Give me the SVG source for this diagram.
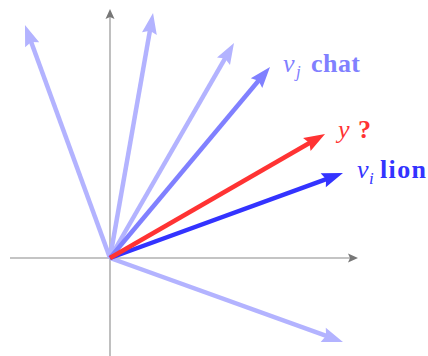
<svg xmlns="http://www.w3.org/2000/svg" width="428" height="356" viewBox="0 0 428 356">
<style>
.axis{stroke:#b0b0b0;stroke-width:1.6;fill:none}
.vec{stroke-width:4.5;fill:none;stroke-linecap:butt}
.light{stroke:#b3b3ff}
.vj{stroke:#8080ff}
.vi{stroke:#3333ff}
.vy{stroke:#ff3333}
text{font-family:"Liberation Serif","DejaVu Serif",serif;font-size:26px}
.it{font-style:italic}
.sub{font-style:italic;font-size:17px}
.b{font-weight:bold}
</style>
<defs>
<marker id="ax" markerUnits="userSpaceOnUse" orient="auto" markerWidth="20" markerHeight="20" refX="0" refY="0" viewBox="-5 -10 20 20" overflow="visible">
<path d="M-2,-4.5 L8,0 L-2,4.5 L0,0 Z" fill="#777"/>
</marker>
<marker id="aL" markerUnits="userSpaceOnUse" orient="auto" overflow="visible" markerWidth="30" markerHeight="30" viewBox="-10 -15 30 30" refX="0" refY="0">
<path d="M-4,-7.5 L17,0 L-4,7.5 L-1,0 Z" fill="#b3b3ff"/>
</marker>
<marker id="aJ" markerUnits="userSpaceOnUse" orient="auto" overflow="visible" markerWidth="30" markerHeight="30" viewBox="-10 -15 30 30" refX="0" refY="0">
<path d="M-4,-7.5 L17,0 L-4,7.5 L-1,0 Z" fill="#8080ff"/>
</marker>
<marker id="aI" markerUnits="userSpaceOnUse" orient="auto" overflow="visible" markerWidth="30" markerHeight="30" viewBox="-10 -15 30 30" refX="0" refY="0">
<path d="M-4,-7.5 L17,0 L-4,7.5 L-1,0 Z" fill="#3333ff"/>
</marker>
<marker id="aY" markerUnits="userSpaceOnUse" orient="auto" overflow="visible" markerWidth="30" markerHeight="30" viewBox="-10 -15 30 30" refX="0" refY="0">
<path d="M-4,-7.5 L17,0 L-4,7.5 L-1,0 Z" fill="#ff3333"/>
</marker>
</defs>
<g id="axes">
<line class="axis" x1="10" y1="258" x2="350" y2="258" marker-end="url(#ax)"/>
<line class="axis" x1="110" y1="356" x2="110" y2="17" marker-end="url(#ax)"/>
</g>
<g id="connectors">
<line class="vec light" x1="110" y1="258" x2="30.8" y2="41.0" marker-end="url(#aL)"/>
<line class="vec light" x1="110" y1="258" x2="150.1" y2="29.7" marker-end="url(#aL)"/>
<line class="vec light" x1="110" y1="258" x2="225.5" y2="57.7" marker-end="url(#aL)"/>
<line class="vec light" x1="110" y1="258" x2="327.0" y2="336.2" marker-end="url(#aL)"/>
<line class="vec vj" x1="110" y1="258" x2="259.1" y2="80.0" marker-end="url(#aJ)"/>
<line class="vec vi" x1="110" y1="258" x2="327.0" y2="178.8" marker-end="url(#aI)"/>
<line class="vec vy" x1="110" y1="258" x2="310.3" y2="142.5" marker-end="url(#aY)"/>
</g>
<g id="label-vj" fill="#8080ff">
<text class="it" x="283" y="72">v</text>
<text class="sub" x="296" y="77">j</text>
<text class="b" x="311" y="72" textLength="49" lengthAdjust="spacing">chat</text>
</g>
<g id="label-y" fill="#ff3333">
<text class="it" x="338" y="138">y</text>
<text class="b" x="358" y="138">?</text>
</g>
<g id="label-vi" fill="#3333ff">
<text class="it" x="357" y="178">v</text>
<text class="sub" x="369" y="184">i</text>
<text class="b" x="380" y="178" textLength="46" lengthAdjust="spacing">lion</text>
</g>
</svg>
